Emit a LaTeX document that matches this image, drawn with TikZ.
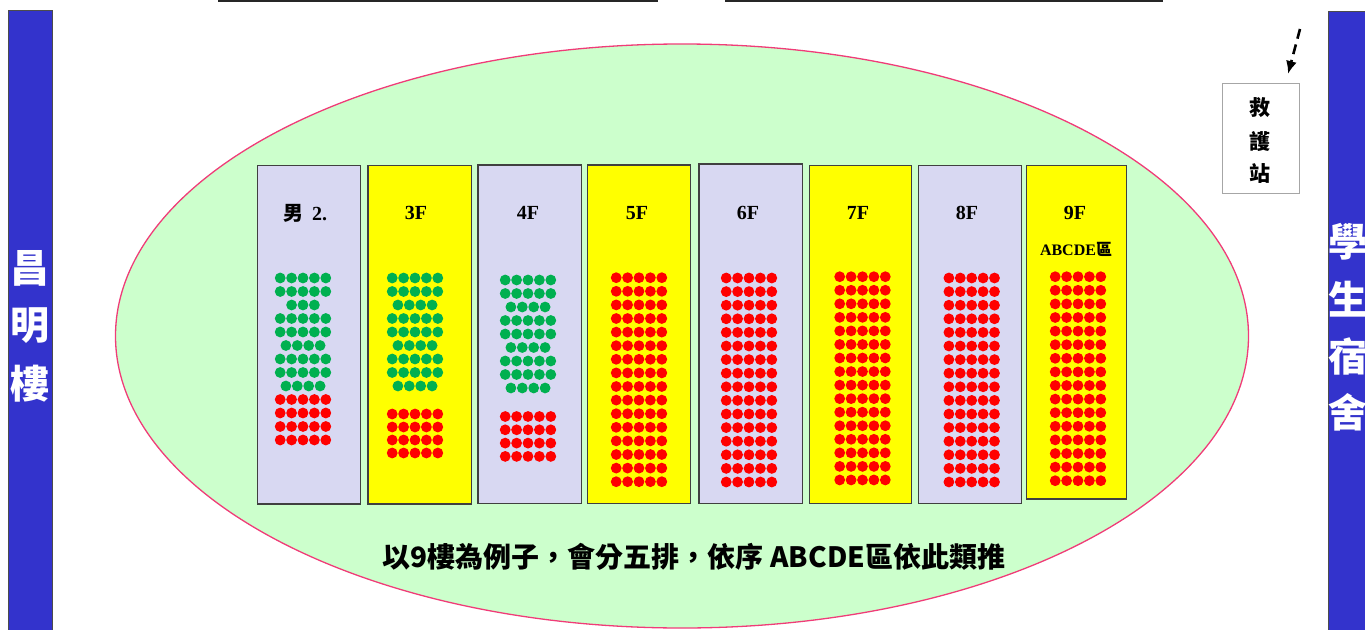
\documentclass[tikz,border=0pt]{standalone}
\usepackage{fontspec}
\setmainfont{Liberation Serif}
\newfontfamily\cjk{Noto Sans CJK TC}
\usetikzlibrary{arrows.meta,shapes.geometric}
\definecolor{barblue}{RGB}{51,51,204}
\definecolor{lav}{RGB}{216,216,242}
\definecolor{yel}{RGB}{255,255,0}
\definecolor{fieldgreen}{RGB}{204,255,204}
\definecolor{fieldedge}{RGB}{240,60,120}
\definecolor{dotgreen}{RGB}{0,176,80}
\definecolor{dotred}{RGB}{255,0,0}
\newcommand\dotrow[4]{%
  \foreach \k in {1,...,#3}{\fill[#4] ({#1+(\k-(#3+1)/2)*11.4},{#2}) circle[radius=5.4pt];}}
\newcommand\greenblock[3]{%
  \foreach \r/\n in {0/5,1/5,2/#3,3/5,4/5,5/4,6/5,7/5,8/4}{\dotrow{#1}{#2+\r*13.5}{\n}{dotgreen}}}
\newcommand\redblock[4]{%
  \foreach \r in {1,...,#3}{\dotrow{#1}{#2+(\r-1)*#4}{5}{dotred}}}
\begin{document}
\begin{tikzpicture}[x=1pt,y=-1pt,
  bar/.style={draw=black!70,line width=0.8pt,fill=barblue,anchor=north west,inner sep=0pt},
  barchar/.style={text=white,font=\cjk\bfseries\fontsize{39}{39}\selectfont,inner sep=0pt},
  colbox/.style={draw=black!75,line width=1.2pt,anchor=north west,inner sep=0pt},
  lbl/.style={font=\bfseries\fontsize{20}{20}\selectfont,inner sep=0pt},
  topline/.style={line width=2pt,black!85}]
\useasboundingbox (0,0) rectangle (1365,629);
% top lines
\draw[topline] (218,1) -- (658,1);
\draw[topline] (725,1) -- (1163,1);
% side bars
\node[bar,minimum width=44pt,minimum height=640pt] (leftbar) at (8,10) {};
\node[barchar] (lb1) at (30,268) {昌};
\node[barchar] (lb2) at (30,326) {明};
\node[barchar] (lb3) at (30,384) {樓};
\node[bar,minimum width=50pt,minimum height=640pt] (rightbar) at (1328,11) {};
\node[barchar] (rb1) at (1348,242) {學};
\node[barchar] (rb2) at (1348,299) {生};
\node[barchar] (rb3) at (1348,356) {宿};
\node[barchar] (rb4) at (1348,412) {舍};
% field
\node[ellipse,draw=fieldedge,line width=1.3pt,fill=fieldgreen,minimum width=1133pt,minimum height=584pt,inner sep=0pt] (field) at (682,336) {};
% columns
\node[colbox,fill=lav,minimum width=103.3pt,minimum height=338.3pt] (c1) at (256.7,165) {};
\node[colbox,fill=yel,minimum width=103.4pt,minimum height=338.3pt] (c2) at (367.3,165) {};
\node[colbox,fill=lav,minimum width=103.4pt,minimum height=338.4pt] (c3) at (477.3,164.3) {};
\node[colbox,fill=yel,minimum width=103.3pt,minimum height=338.4pt] (c4) at (586.7,164.3) {};
\node[colbox,fill=lav,minimum width=103.4pt,minimum height=339.4pt] (c5) at (698.3,163.3) {};
\node[colbox,fill=yel,minimum width=101.7pt,minimum height=338pt] (c6) at (809,164.7) {};
\node[colbox,fill=lav,minimum width=103.3pt,minimum height=338pt] (c7) at (917.7,164.7) {};
\node[colbox,fill=yel,minimum width=100pt,minimum height=333.3pt] (c8) at (1026,165) {};
% labels
\node[lbl] (l1) at (305,213) {{\cjk\bfseries 男}\hspace{9pt}2.};
\node[lbl] (l2) at (416,213) {3F};
\node[lbl] (l3) at (528,213) {4F};
\node[lbl] (l4) at (637,213) {5F};
\node[lbl] (l5) at (748,213) {6F};
\node[lbl] (l6) at (858,213) {7F};
\node[lbl] (l7) at (967,213) {8F};
\node[lbl] (l8) at (1075,213) {9F};
\node[inner sep=0pt,font=\bfseries\fontsize{16}{16}\selectfont] (l8b) at (1076,249) {ABCDE{\cjk\bfseries 區}};
% dots
\greenblock{303}{278}{3}
\redblock{303}{399.5}{4}{13.5}
\greenblock{415}{278}{4}
\redblock{415}{414}{4}{13}
\greenblock{528}{280}{4}
\redblock{528}{416.5}{4}{13.3}
\redblock{639}{277.7}{16}{13.6}
\redblock{749}{278}{16}{13.6}
\redblock{862.5}{276.7}{16}{13.55}
\redblock{971.7}{278}{16}{13.6}
\redblock{1078}{276.7}{16}{13.6}
% caption
\node[inner sep=0pt,font=\cjk\bfseries\fontsize{28}{28}\selectfont] (cap) at (694,557) {以9樓為例子，會分五排，依序 ABCDE區依此類推};
% first aid station
\node[draw=black!35,line width=1pt,fill=white,anchor=north west,minimum width=77.6pt,minimum height=110pt,inner sep=0pt] (aid) at (1221.7,83.3) {};
\node[inner sep=0pt,font=\cjk\bfseries\fontsize{21}{21}\selectfont] (aid1) at (1260,108) {救};
\node[inner sep=0pt,font=\cjk\bfseries\fontsize{21}{21}\selectfont] (aid2) at (1260,141) {護};
\node[inner sep=0pt,font=\cjk\bfseries\fontsize{21}{21}\selectfont] (aid3) at (1260,173) {站};
\coordinate (arrfrom) at (1300,29);
\coordinate (arrto) at (1288,74);
\draw[line width=2.6pt,dash pattern=on 10pt off 6pt,-{Latex[length=13pt,width=11pt]}] (arrfrom) -- (arrto);
\end{tikzpicture}
\end{document}
